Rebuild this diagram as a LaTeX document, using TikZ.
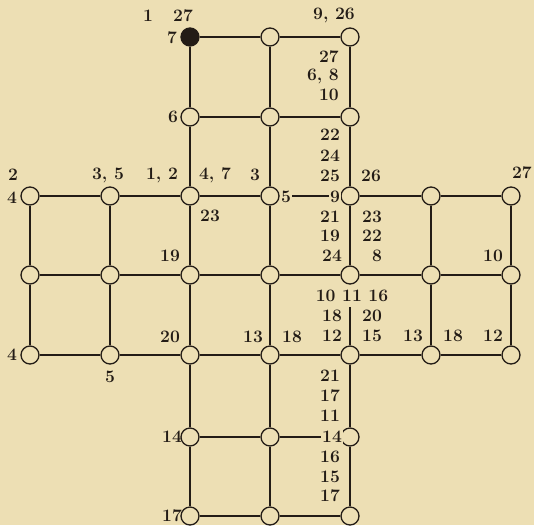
\documentclass[tikz,border=0pt]{standalone}
\definecolor{bg}{RGB}{237,223,180}
\definecolor{ink}{RGB}{35,28,22}
\tikzset{
  v/.style={circle, draw=ink, line width=1.3pt, minimum size=18pt, inner sep=0pt, fill=bg},
  lab/.style={font=\fontsize{17.5}{19}\bfseries\selectfont, text=ink, inner sep=0pt},
  cover/.style={lab, fill=bg, inner sep=1.5pt},
  edge/.style={draw=ink, line width=1.5pt}
}
\begin{document}
\begin{tikzpicture}[x=1pt,y=-1pt]
\fill[bg] (0,0) rectangle (534,525);
\useasboundingbox (0,0) rectangle (534,525);
% nodes
\node[v, fill=ink] (n12) at (190,37) {};
\node[v] (n13) at (270,37) {};
\node[v] (n14) at (350,37) {};
\node[v] (n22) at (190,117) {};
\node[v] (n23) at (270,117) {};
\node[v] (n24) at (350,117) {};
\foreach \r/\y in {3/196,4/275,5/355}{
  \foreach \c/\x in {0/30,1/110,2/190,3/270,4/350,5/431,6/511}{
    \node[v] (n\r\c) at (\x,\y) {};
  }
}
\node[v] (n62) at (190,437) {};
\node[v] (n63) at (270,437) {};
\node[v] (n64) at (350,437) {};
\node[v] (n72) at (190,516) {};
\node[v] (n73) at (270,516) {};
\node[v] (n74) at (350,516) {};
% horizontal edges
\foreach \r in {1,2,6,7}{
  \draw[edge] (n\r2) -- (n\r3);
  \draw[edge] (n\r3) -- (n\r4);
}
\foreach \r in {3,4,5}{
  \foreach \a/\b in {0/1,1/2,2/3,3/4,4/5,5/6}{
    \draw[edge] (n\r\a) -- (n\r\b);
  }
}
% vertical edges
\foreach \c in {2,3,4}{
  \draw[edge] (n1\c) -- (n2\c);
  \draw[edge] (n2\c) -- (n3\c);
  \draw[edge] (n5\c) -- (n6\c);
  \draw[edge] (n6\c) -- (n7\c);
}
\foreach \c in {0,...,6}{
  \draw[edge] (n3\c) -- (n4\c);
  \draw[edge] (n4\c) -- (n5\c);
}
% labels that interrupt connectors
\node[cover] (l5) at (286,197) {5};
\node[cover] (l9) at (335,197) {9};
\node[cover] (l14b) at (332,437) {14};
\node[cover, inner ysep=5pt] (l101116) at (352,296) {10 11 16};
% labels
\node[lab] (t1) at (148,16) {1};
\node[lab] (t27a) at (183,16) {27};
\node[lab] (t7) at (172,38) {7};
\node[lab] (t926) at (334,15) {9, 26};
\node[lab, anchor=east] (t27b) at (339,57) {27};
\node[lab, anchor=east] (t68) at (339,76) {6, 8};
\node[lab, anchor=east] (t10a) at (339,95) {10};
\node[lab] (t6) at (173,117) {6};
\node[lab] (t22a) at (330,135) {22};
\node[lab] (t24a) at (330,156) {24};
\node[lab] (t25) at (330,176) {25};
\node[lab] (t26) at (371,176) {26};
\node[lab] (t2) at (13,175) {2};
\node[lab] (t4a) at (12,198) {4};
\node[lab] (t35) at (108,175) {3, 5};
\node[lab] (t12) at (162,175) {1, 2};
\node[lab] (t47) at (215,175) {4, 7};
\node[lab] (t3) at (255,175) {3};
\node[lab] (t23a) at (210,216) {23};
\node[lab, anchor=east] (t27c) at (532,173) {27};
\node[lab] (t21a) at (330,217) {21};
\node[lab] (t19a) at (330,236) {19};
\node[lab] (t24b) at (332,256) {24};
\node[lab] (t23b) at (372,217) {23};
\node[lab] (t22b) at (372,236) {22};
\node[lab] (t8) at (377,256) {8};
\node[lab] (t19b) at (170,256) {19};
\node[lab] (t10b) at (493,256) {10};
\node[lab] (t18a) at (332,316) {18};
\node[lab] (t20a) at (372,316) {20};
\node[lab] (t12a) at (332,336) {12};
\node[lab] (t15a) at (372,336) {15};
\node[lab] (t20b) at (170,337) {20};
\node[lab] (t13a) at (253,337) {13};
\node[lab] (t18b) at (292,337) {18};
\node[lab] (t13b) at (413,336) {13};
\node[lab] (t18c) at (453,336) {18};
\node[lab] (t12b) at (493,336) {12};
\node[lab] (t4b) at (12,355) {4};
\node[lab] (t5) at (110,377) {5};
\node[lab] (t21b) at (330,376) {21};
\node[lab] (t17a) at (330,396) {17};
\node[lab] (t11) at (330,416) {11};
\node[lab] (t14a) at (172,437) {14};
\node[lab] (t16) at (330,457) {16};
\node[lab] (t15b) at (330,477) {15};
\node[lab] (t17b) at (330,496) {17};
\node[lab] (t17c) at (172,516) {17};
\end{tikzpicture}
\end{document}
